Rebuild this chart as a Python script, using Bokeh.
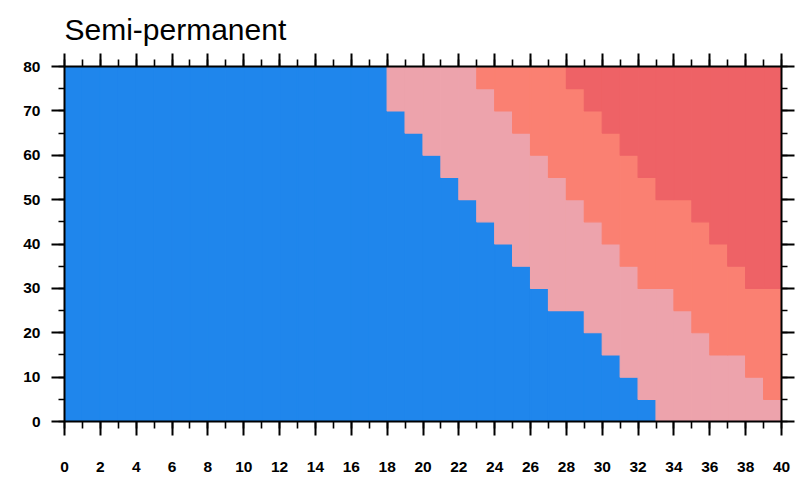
from bokeh.plotting import figure
from bokeh.models import LinearAxis, SingleIntervalTicker, Range1d, ColumnDataSource
from bokeh.embed import file_html
from bokeh.resources import INLINE

# --- data (per 1-unit column, x = 0..39) ---
columns = list(range(40))
# top of the blue zone in each column
blue_top = [80] * 18 + [70, 65, 60, 55, 50, 45, 40, 35, 30, 25, 25, 20, 15, 10, 5] + [0] * 7
# top of the pink zone in each column
pink_top = [80] * 23 + [75, 70, 65, 60, 55, 50, 45, 40, 35, 30, 30, 25, 20, 15, 15, 10, 5]
# top of the salmon zone in each column (red above it up to 80)
salmon_top = [80] * 28 + [75, 70, 65, 60, 55, 50, 50, 45, 40, 35, 30, 30]
y_max = 80
categories = ["blue", "pink", "salmon", "red"]
colors = ["#1F86EC", "#EDA3AC", "#FA8072", "#EE6266"]
title_text = "Semi-permanent"

x_ticks_interval = 2
y_ticks_interval = 10

data = dict(
    x=[c + 0.5 for c in columns],
    blue=blue_top,
    pink=[p - b for p, b in zip(pink_top, blue_top)],
    salmon=[s - p for s, p in zip(salmon_top, pink_top)],
    red=[y_max - s for s in salmon_top],
)
src = ColumnDataSource(data)

FONT = "Liberation Sans"

p = figure(width=800, height=480, x_range=Range1d(0, 40), y_range=Range1d(0, y_max),
           output_backend="svg", toolbar_location=None,
           min_border_left=64, min_border_right=19, min_border_top=66, min_border_bottom=59,
           x_axis_location=None, y_axis_location=None)

p.vbar_stack(categories, x="x", width=1.0, source=src, color=colors, line_width=1.2)

p.xgrid.visible = False
p.ygrid.visible = False
p.outline_line_color = None
p.background_fill_color = "white"
p.border_fill_color = "white"

p.title.text = title_text
p.title.text_font = FONT
p.title.text_font_size = "30px"
p.title.text_font_style = "normal"
p.title.text_color = "black"
p.title.align = "left"
p.title.standoff = 12
p.title.vertical_align = "top"


def style(ax, major_len):
    ax.axis_line_width = 2
    ax.axis_line_color = "black"
    ax.major_tick_in = 0
    ax.major_tick_out = major_len
    ax.minor_tick_in = 0
    ax.minor_tick_out = 7
    ax.major_tick_line_width = 2
    ax.minor_tick_line_width = 1.6
    ax.major_label_text_font = FONT
    ax.major_label_text_font_style = "bold"
    ax.major_label_text_font_size = "15.5px"
    ax.major_label_text_color = "black"


xt = lambda: SingleIntervalTicker(interval=x_ticks_interval, num_minor_ticks=2)
yt = lambda: SingleIntervalTicker(interval=y_ticks_interval, num_minor_ticks=2)

bottom = LinearAxis(ticker=xt())
style(bottom, 14)
bottom.major_label_standoff = 26
p.add_layout(bottom, "below")

top = LinearAxis(ticker=xt())
style(top, 13)
top.major_label_overrides = {i: "" for i in range(0, 41, x_ticks_interval)}
top.major_label_standoff = 0
p.add_layout(top, "above")

left = LinearAxis(ticker=yt())
style(left, 13)
left.minor_tick_out = 6
left.major_label_standoff = 11
p.add_layout(left, "left")

right = LinearAxis(ticker=yt())
style(right, 13)
right.minor_tick_out = 6
right.major_label_overrides = {i: "" for i in range(0, 81, y_ticks_interval)}
right.major_label_standoff = 0
p.add_layout(right, "right")

open("out.html", "w").write(file_html(p, INLINE))
